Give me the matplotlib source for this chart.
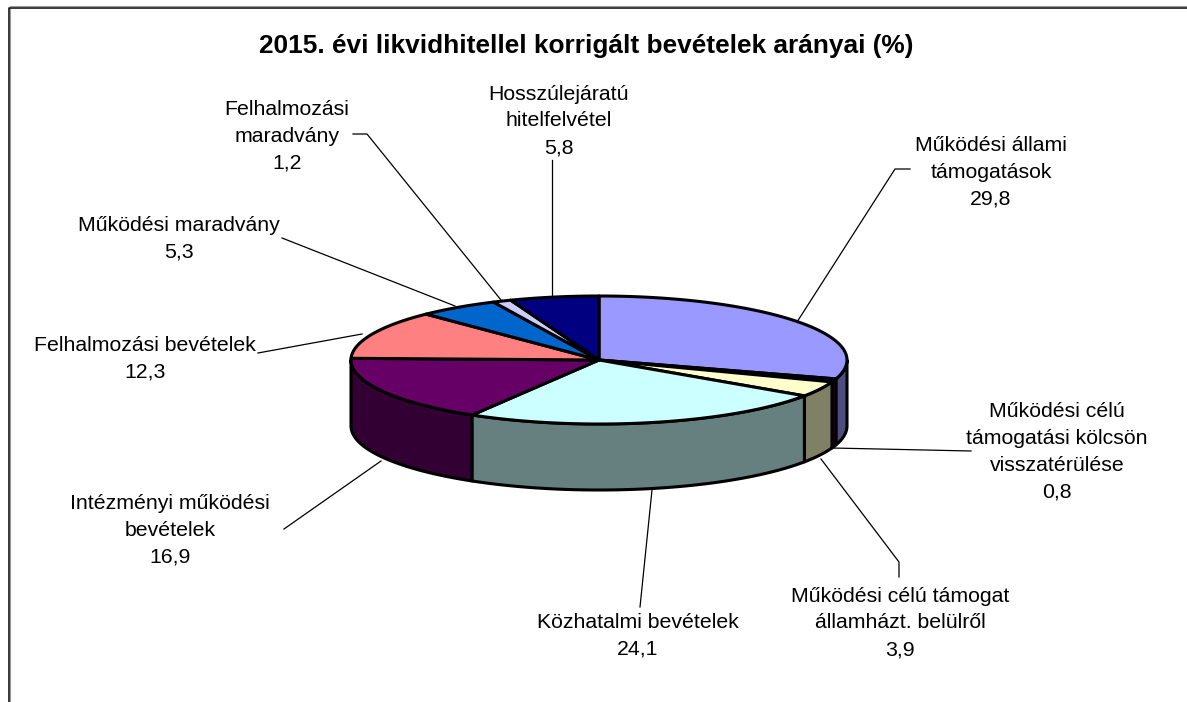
import numpy as np
import matplotlib
matplotlib.use("Agg")
import matplotlib.pyplot as plt
from matplotlib.patches import Polygon

title = "2015. évi likvidhitellel korrigált bevételek arányai (%)"
categories = ["Működési állami\ntámogatások", "Működési célú\ntámogatási kölcsön\nvisszatérülése",
              "Működési célú támogat\nállamházt. belülről", "Közhatalmi bevételek",
              "Intézményi működési\nbevételek", "Felhalmozási bevételek", "Működési maradvány",
              "Felhalmozási\nmaradvány", "Hosszúlejáratú\nhitelfelvétel"]
values = [29.8, 0.8, 3.9, 24.1, 16.9, 12.3, 5.3, 1.2, 5.8]
labels_txt = ["29,8", "0,8", "3,9", "24,1", "16,9", "12,3", "5,3", "1,2", "5,8"]
top_colors = ["#9999FF", "#660066", "#FFFFCC", "#CCFFFF", "#660066", "#FF8080", "#0066CC", "#CCCCFF", "#000080"]
side_colors = ["#4D4D80", "#330033", "#808066", "#668080", "#330033", "#804040", "#003366", "#666680", "#000040"]
# label centre position (px), leader polyline (px)
label_pos = [(991, 172), (1057, 452), (900, 623), (638, 636), (170, 530), (145, 359), (179, 239), (287, 136), (559, 121)]
leaders = [[(910, 169), (895, 169), (797, 322)], [(971, 451), (832, 448)], [(899, 577), (899, 562), (821, 459)],
           [(640, 607), (652, 490)], [(284, 529), (381, 461)], [(258, 353), (362, 334)],
           [(282, 238), (455, 306)], [(353, 134), (367, 134), (501, 300)], [(552, 160), (552, 296)]]

W, H = 1187, 702
plt.rcParams['font.family'] = ['Liberation Sans', 'DejaVu Sans']
fig = plt.figure(figsize=(W / 100, H / 100), dpi=100, facecolor="white")
ax = fig.add_axes([0, 0, 1, 1])
ax.set_xlim(0, W)
ax.set_ylim(H, 0)
ax.axis("off")

cx, cy, rx, ry, depth = 599, 360, 248, 64, 66
edge = dict(edgecolor="black", linewidth=2.2, joinstyle="round")


def pt(a):
    return cx + rx * np.sin(a), cy - ry * np.cos(a)


bounds = np.radians(np.concatenate([[0], np.cumsum(values)]) / np.sum(values) * 360)

# frame: left and top only
ax.plot([8.5, 8.5, W], [H, 7.5, 7.5], color="black", lw=1.1, zorder=1)
ax.plot([9.8, 9.8], [H, 8.5], color="#999999", lw=0.8, zorder=1)
ax.plot([9.5, W], [6.2, 6.2], color="#999999", lw=0.8, zorder=1)

# sides: only the visible (front) portion, right and left angles around pi
order = sorted(range(len(values)), key=lambda i: -abs((bounds[i] + bounds[i + 1]) / 2 - np.pi))
z = 2
for i in order:
    a0, a1 = max(bounds[i], np.pi / 2), min(bounds[i + 1], 3 * np.pi / 2)
    if a1 <= a0:
        continue
    t = np.linspace(a0, a1, 80)
    x, y = pt(t)
    poly = np.vstack([np.c_[x, y], np.c_[x[::-1], y[::-1] + depth]])
    ax.add_patch(Polygon(poly, closed=True, facecolor=side_colors[i], zorder=z, **edge))
    z += 0.01

# tops
for i in range(len(values)):
    t = np.linspace(bounds[i], bounds[i + 1], 120)
    x, y = pt(t)
    poly = np.vstack([[cx, cy], np.c_[x, y]])
    ax.add_patch(Polygon(poly, closed=True, facecolor=top_colors[i], zorder=3, **edge))

# leaders and labels
for line in leaders:
    xs, ys = zip(*line)
    ax.plot(xs, ys, color="black", lw=0.9, zorder=1.5)
for (px, py), c, v in zip(label_pos, categories, labels_txt):
    ax.text(px, py, f"{c}\n{v}", ha="center", va="center", fontsize=15.35, color="black",
            linespacing=1.53, zorder=5)

ax.text(586, 46, title, ha="center", va="center", fontsize=18.9, fontweight="bold", color="black", zorder=5)

fig.savefig("out.png", dpi=100, facecolor="white")
